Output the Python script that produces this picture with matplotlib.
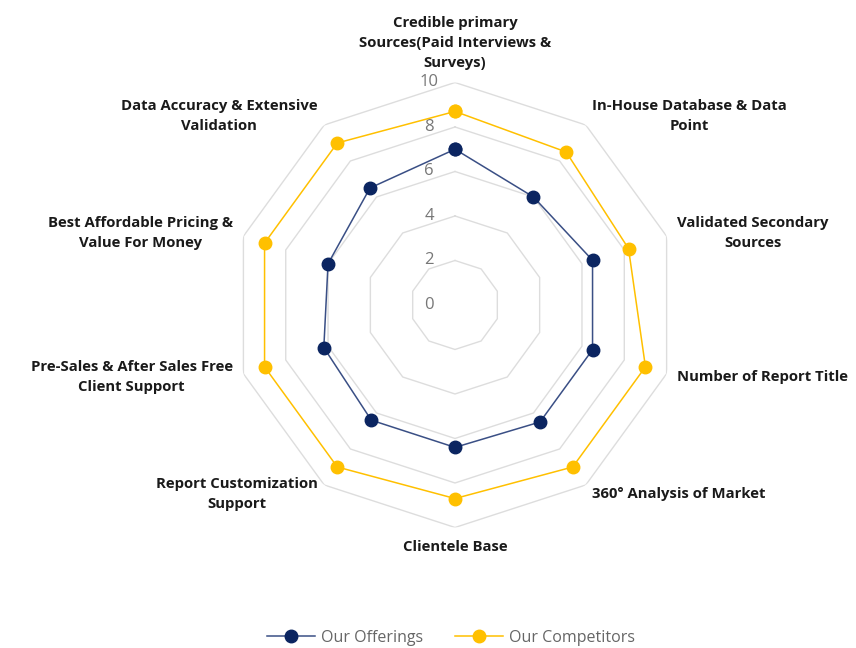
import numpy as np
import matplotlib.pyplot as plt

# categories, clockwise from the top
categories = [
    "Credible primary\nSources(Paid Interviews &\nSurveys)",
    "In-House Database & Data\nPoint",
    "Validated Secondary\nSources",
    "Number of Report Title",
    "360\u00b0 Analysis of Market",
    "Clientele Base",
    "Report Customization\nSupport",
    "Pre-Sales & After Sales Free\nClient Support",
    "Best Affordable Pricing &\nValue For Money",
    "Data Accuracy & Extensive\nValidation",
]
offerings = [7, 6, 6.5, 6.5, 6.5, 6.4, 6.4, 6.2, 6, 6.5]
competitors = [8.7, 8.5, 8.2, 9, 9, 8.7, 9, 9, 9, 9]
ticks = [0, 2, 4, 6, 8, 10]

navy = "#0b2561"
navy_line = "#3a4f85"
gold = "#ffc000"

plt.rcParams['font.family'] = ['Open Sans', 'DejaVu Sans']

fig = plt.figure(figsize=(8.56, 6.48), dpi=100)
ax = fig.add_axes([0.2716, 0.186, 0.5199, 0.6867], projection='polar')
ax.set_theta_zero_location('N')
ax.set_theta_direction(-1)
ax.set_ylim(0, 10)
ax.grid(False)
ax.spines['polar'].set_visible(False)
ax.set_xticks([])
ax.set_yticks([])

n = len(categories)
angles = np.linspace(0, 2 * np.pi, n, endpoint=False)
closed = np.append(angles, angles[0])

# polygon grid rings
for t in ticks[1:]:
    ax.plot(closed, [t] * (n + 1), color='#dddddd', lw=1, zorder=1)

# tick labels left of the top axis
for t in ticks:
    ax.annotate(str(t), xy=(0, t), xytext=(-26, 0), textcoords='offset pixels',
                ha='center', va='center', fontsize=12, color='#777777')

l1, = ax.plot(closed, offerings + offerings[:1], color=navy_line, lw=1.1,
              marker='o', markersize=9, markerfacecolor=navy, markeredgecolor=navy,
              label='Our Offerings', zorder=3)
l2, = ax.plot(closed, competitors + competitors[:1], color=gold, lw=1.1,
              marker='o', markersize=9, markerfacecolor=gold, markeredgecolor=gold,
              label='Our Competitors', zorder=3)

# category labels
for a, lab in zip(angles, categories):
    deg = np.degrees(a)
    if deg == 0:
        ha, va = 'center', 'bottom'
    elif deg == 180:
        ha, va = 'center', 'top'
    elif deg < 180:
        ha, va = 'left', 'center'
    else:
        ha, va = 'right', 'center'
    r = 10.5 if deg not in (0, 180) else 10.55
    ax.text(a, r, lab, ha=ha, va=va, multialignment='center',
            fontsize=10.7, fontweight='bold', color='#1a1a1a', linespacing=1.55)

leg = fig.legend(handles=[l1, l2], loc='center', bbox_to_anchor=(0.527, 1 - 638 / 648),
                 ncol=2, frameon=False, handlelength=3.0, columnspacing=2.0,
                 handletextpad=0.4, fontsize=11.5)
for txt in leg.get_texts():
    txt.set_color('#666666')

fig.savefig('out.png', dpi=100)
